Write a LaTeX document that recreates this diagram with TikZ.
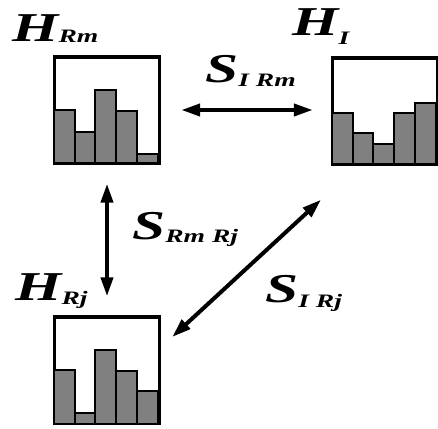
\documentclass[tikz,border=0pt]{standalone}
\usepackage{fontspec}
\setmainfont{Liberation Serif}
\usetikzlibrary{arrows.meta}
% lowered small subscript after a big letter
\newcommand{\lowsub}[2]{\raisebox{#1}{\fontsize{19}{19}\selectfont #2}}
\tikzset{
  % The 'frame' style is the square outline round each histogram
  frame/.style={draw=black, line width=2.4pt, minimum width=104pt, minimum height=105pt, inner sep=0pt},
  % The 'bar' style is one stippled grey bin of a histogram
  bar/.style={draw=black, line width=2pt, fill=black!50},
  % The 'sym' style is for the big bold italic letters, set wide
  sym/.style={font=\fontsize{41}{41}\selectfont\bfseries\itshape, anchor=base west, inner sep=0pt,
              xscale=1.45, transform shape},
  % The 'link' style is the thick double arrow between histograms
  link/.style={line width=4pt, {Triangle[length=19pt,width=12pt]}-{Triangle[length=19pt,width=12pt]}}
}

\begin{document}
\begin{tikzpicture}[x=1pt, y=1pt]

  \useasboundingbox (0,0) rectangle (438,428);

  % The three histogram frames
  \node[frame] (rm) at (107,318) {};
  \node[frame] (hi) at (385,317) {};
  \node[frame] (rj) at (107,58) {};

  % Bins of each histogram
  \foreach \h [count=\i] in {54,32,74,53,10}
    \draw[bar] ([xshift={(\i-1)*20.8}]rm.south west) rectangle ++(20.8,\h);
  \foreach \h [count=\i] in {52,32,21,52,62}
    \draw[bar] ([xshift={(\i-1)*20.8}]hi.south west) rectangle ++(20.8,\h);
  \foreach \h [count=\i] in {54,11,74,53,33}
    \draw[bar] ([xshift={(\i-1)*20.8}]rj.south west) rectangle ++(20.8,\h);

  % Redraw the frames over the bins
  \foreach \n in {rm,hi,rj}
    \draw[line width=2.4pt] (\n.south west) rectangle (\n.north east);

  % Histogram names
  \node[sym] (rm-name) at (12,386) {H\lowsub{-1pt}{Rm}};
  \node[sym] (hi-name) at (292,392) {H\lowsub{-9pt}{I}};
  \node[sym] (rj-name) at (15,128) {H\lowsub{-4pt}{Rj}};

  % Similarity arrows
  \coordinate (diag-lo) at ([xshift=12pt,yshift=33pt]rj.east);
  \coordinate (diag-hi) at ([xshift=-64pt,yshift=-35pt]hi.south);
  \draw[link, shorten <=21pt, shorten >=19pt] (rm.east) -- (rm.east -| hi.west);
  \draw[link, shorten <=20pt, shorten >=20pt] (rm.south) -- (rj.north);
  \draw[link] (diag-lo) -- (diag-hi);

  % Similarity names
  \node[sym] (s-irm) at (205,345) {S\lowsub{-4pt}{I Rm}};
  \node[sym] (s-rmrj) at (132,188) {S\lowsub{-3pt}{Rm Rj}};
  \node[sym] (s-irj) at (265,125) {S\lowsub{-5pt}{I Rj}};

\end{tikzpicture}
\end{document}
